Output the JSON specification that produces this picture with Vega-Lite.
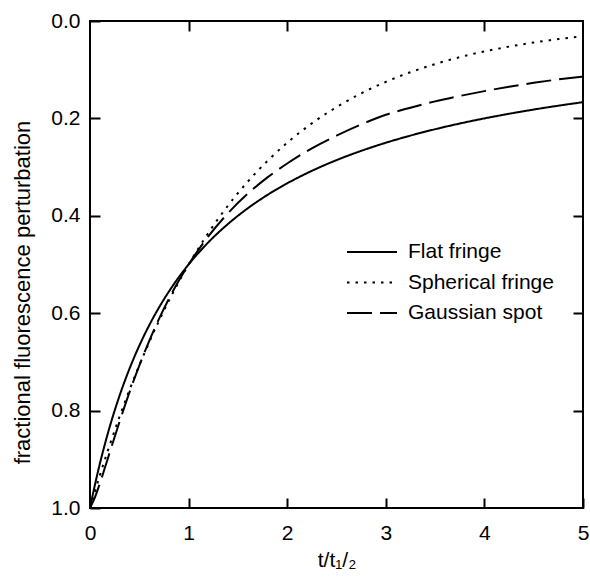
{
  "$schema": "https://vega.github.io/schema/vega-lite/v6.json",
  "width": 493,
  "height": 487,
  "autosize": {"type": "none"},
  "padding": {"left": 90, "top": 21, "right": 7, "bottom": 70},
  "background": "white",
  "config": {
    "font": "Liberation Sans",
    "view": {"stroke": "black", "strokeWidth": 2},
    "axis": {
      "domain": false,
      "grid": false,
      "tickColor": "black",
      "tickWidth": 2,
      "tickSize": -10,
      "labelFont": "Liberation Sans",
      "labelFontSize": 21,
      "labelColor": "black",
      "titleFont": "Liberation Sans",
      "titleFontSize": 21,
      "titleFontWeight": "normal",
      "titleColor": "black"
    }
  },
  "data": {
    "values": [
      {"t": 0, "v": 1, "s": "Flat fringe"},
      {"t": 0.05, "v": 0.9524, "s": "Flat fringe"},
      {"t": 0.1, "v": 0.9091, "s": "Flat fringe"},
      {"t": 0.15, "v": 0.8696, "s": "Flat fringe"},
      {"t": 0.2, "v": 0.8333, "s": "Flat fringe"},
      {"t": 0.3, "v": 0.7692, "s": "Flat fringe"},
      {"t": 0.4, "v": 0.7143, "s": "Flat fringe"},
      {"t": 0.5, "v": 0.6667, "s": "Flat fringe"},
      {"t": 0.6, "v": 0.625, "s": "Flat fringe"},
      {"t": 0.7, "v": 0.5882, "s": "Flat fringe"},
      {"t": 0.8, "v": 0.5556, "s": "Flat fringe"},
      {"t": 0.9, "v": 0.5263, "s": "Flat fringe"},
      {"t": 1.0, "v": 0.5, "s": "Flat fringe"},
      {"t": 1.2, "v": 0.4545, "s": "Flat fringe"},
      {"t": 1.4, "v": 0.4167, "s": "Flat fringe"},
      {"t": 1.6, "v": 0.3846, "s": "Flat fringe"},
      {"t": 1.8, "v": 0.3571, "s": "Flat fringe"},
      {"t": 2.0, "v": 0.3333, "s": "Flat fringe"},
      {"t": 2.25, "v": 0.3077, "s": "Flat fringe"},
      {"t": 2.5, "v": 0.2857, "s": "Flat fringe"},
      {"t": 2.75, "v": 0.2667, "s": "Flat fringe"},
      {"t": 3.0, "v": 0.25, "s": "Flat fringe"},
      {"t": 3.25, "v": 0.2353, "s": "Flat fringe"},
      {"t": 3.5, "v": 0.2222, "s": "Flat fringe"},
      {"t": 3.75, "v": 0.2105, "s": "Flat fringe"},
      {"t": 4.0, "v": 0.2, "s": "Flat fringe"},
      {"t": 4.25, "v": 0.1905, "s": "Flat fringe"},
      {"t": 4.5, "v": 0.1818, "s": "Flat fringe"},
      {"t": 4.75, "v": 0.1739, "s": "Flat fringe"},
      {"t": 5.0, "v": 0.1667, "s": "Flat fringe"},
      {"t": 0, "v": 1, "s": "Spherical fringe"},
      {"t": 0.05, "v": 0.9659, "s": "Spherical fringe"},
      {"t": 0.1, "v": 0.933, "s": "Spherical fringe"},
      {"t": 0.15, "v": 0.9013, "s": "Spherical fringe"},
      {"t": 0.2, "v": 0.8706, "s": "Spherical fringe"},
      {"t": 0.3, "v": 0.8123, "s": "Spherical fringe"},
      {"t": 0.4, "v": 0.7579, "s": "Spherical fringe"},
      {"t": 0.5, "v": 0.7071, "s": "Spherical fringe"},
      {"t": 0.6, "v": 0.6598, "s": "Spherical fringe"},
      {"t": 0.7, "v": 0.6156, "s": "Spherical fringe"},
      {"t": 0.8, "v": 0.5743, "s": "Spherical fringe"},
      {"t": 0.9, "v": 0.5359, "s": "Spherical fringe"},
      {"t": 1.0, "v": 0.5, "s": "Spherical fringe"},
      {"t": 1.2, "v": 0.4353, "s": "Spherical fringe"},
      {"t": 1.4, "v": 0.3789, "s": "Spherical fringe"},
      {"t": 1.6, "v": 0.3299, "s": "Spherical fringe"},
      {"t": 1.8, "v": 0.2872, "s": "Spherical fringe"},
      {"t": 2.0, "v": 0.25, "s": "Spherical fringe"},
      {"t": 2.25, "v": 0.2102, "s": "Spherical fringe"},
      {"t": 2.5, "v": 0.1768, "s": "Spherical fringe"},
      {"t": 2.75, "v": 0.1487, "s": "Spherical fringe"},
      {"t": 3.0, "v": 0.125, "s": "Spherical fringe"},
      {"t": 3.25, "v": 0.1051, "s": "Spherical fringe"},
      {"t": 3.5, "v": 0.0884, "s": "Spherical fringe"},
      {"t": 3.75, "v": 0.0743, "s": "Spherical fringe"},
      {"t": 4.0, "v": 0.0625, "s": "Spherical fringe"},
      {"t": 4.25, "v": 0.0526, "s": "Spherical fringe"},
      {"t": 4.5, "v": 0.0442, "s": "Spherical fringe"},
      {"t": 4.75, "v": 0.0372, "s": "Spherical fringe"},
      {"t": 5.0, "v": 0.0313, "s": "Spherical fringe"},
      {"t": 0, "v": 1, "s": "Gaussian spot"},
      {"t": 0.05, "v": 0.978, "s": "Gaussian spot"},
      {"t": 0.1, "v": 0.9495, "s": "Gaussian spot"},
      {"t": 0.15, "v": 0.918, "s": "Gaussian spot"},
      {"t": 0.2, "v": 0.886, "s": "Gaussian spot"},
      {"t": 0.3, "v": 0.8226, "s": "Gaussian spot"},
      {"t": 0.4, "v": 0.7626, "s": "Gaussian spot"},
      {"t": 0.5, "v": 0.7076, "s": "Gaussian spot"},
      {"t": 0.6, "v": 0.6572, "s": "Gaussian spot"},
      {"t": 0.7, "v": 0.6117, "s": "Gaussian spot"},
      {"t": 0.8, "v": 0.5706, "s": "Gaussian spot"},
      {"t": 0.9, "v": 0.5335, "s": "Gaussian spot"},
      {"t": 1.0, "v": 0.5, "s": "Gaussian spot"},
      {"t": 1.2, "v": 0.4422, "s": "Gaussian spot"},
      {"t": 1.4, "v": 0.3945, "s": "Gaussian spot"},
      {"t": 1.6, "v": 0.3546, "s": "Gaussian spot"},
      {"t": 1.8, "v": 0.3211, "s": "Gaussian spot"},
      {"t": 2.0, "v": 0.2926, "s": "Gaussian spot"},
      {"t": 2.25, "v": 0.2615, "s": "Gaussian spot"},
      {"t": 2.5, "v": 0.2355, "s": "Gaussian spot"},
      {"t": 2.75, "v": 0.2125, "s": "Gaussian spot"},
      {"t": 3.0, "v": 0.1925, "s": "Gaussian spot"},
      {"t": 3.25, "v": 0.178, "s": "Gaussian spot"},
      {"t": 3.5, "v": 0.165, "s": "Gaussian spot"},
      {"t": 3.75, "v": 0.154, "s": "Gaussian spot"},
      {"t": 4.0, "v": 0.144, "s": "Gaussian spot"},
      {"t": 4.25, "v": 0.135, "s": "Gaussian spot"},
      {"t": 4.5, "v": 0.127, "s": "Gaussian spot"},
      {"t": 4.75, "v": 0.12, "s": "Gaussian spot"},
      {"t": 5.0, "v": 0.114, "s": "Gaussian spot"}
    ]
  },
  "layer": [
    {
      "mark": {"type": "line", "color": "black", "strokeWidth": 2, "interpolate": "monotone", "clip": true},
      "encoding": {
        "x": {
          "field": "t", "type": "quantitative",
          "scale": {"domain": [0, 5], "nice": false, "zero": false},
          "axis": {"orient": "bottom", "values": [0, 1, 2, 3, 4, 5], "title": "t/t₁/₂", "labelPadding": 24, "titlePadding": 6, "labelFlush": false}
        },
        "y": {
          "field": "v", "type": "quantitative",
          "scale": {"domain": [0, 1], "reverse": true, "nice": false},
          "axis": {"orient": "left", "values": [0, 0.2, 0.4, 0.6, 0.8, 1.0], "format": ".1f", "title": "fractional fluorescence perturbation", "titleFontSize": 22, "titleY": 271, "labelPadding": 20, "titlePadding": 16, "labelFlush": false}
        },
        "strokeDash": {
          "field": "s", "type": "nominal",
          "scale": {"domain": ["Flat fringe", "Spherical fringe", "Gaussian spot"], "range": [[1, 0], [2.5, 6], [25, 8]]},
          "legend": {
            "orient": "none", "legendX": 256, "legendY": 217, "title": null,
            "symbolType": "stroke", "symbolSize": 2500, "symbolStrokeWidth": 2, "symbolStrokeColor": "black",
            "labelFont": "Liberation Sans", "labelFontSize": 21, "labelColor": "black", "labelOffset": 10, "labelLimit": 300,
            "clipHeight": 28, "rowPadding": 2.5
          }
        }
      }
    },
    {
      "mark": {"type": "point", "opacity": 0},
      "encoding": {
        "x": {
          "field": "t", "type": "quantitative",
          "scale": {"domain": [0, 5], "nice": false, "zero": false},
          "axis": {"orient": "top", "values": [1, 2, 3, 4], "labels": false, "title": null}
        },
        "y": {
          "field": "v", "type": "quantitative",
          "scale": {"domain": [0, 1], "reverse": true, "nice": false},
          "axis": {"orient": "right", "values": [0.2, 0.4, 0.6, 0.8], "labels": false, "title": null}
        }
      }
    }
  ],
  "resolve": {"axis": {"x": "independent", "y": "independent"}}
}
